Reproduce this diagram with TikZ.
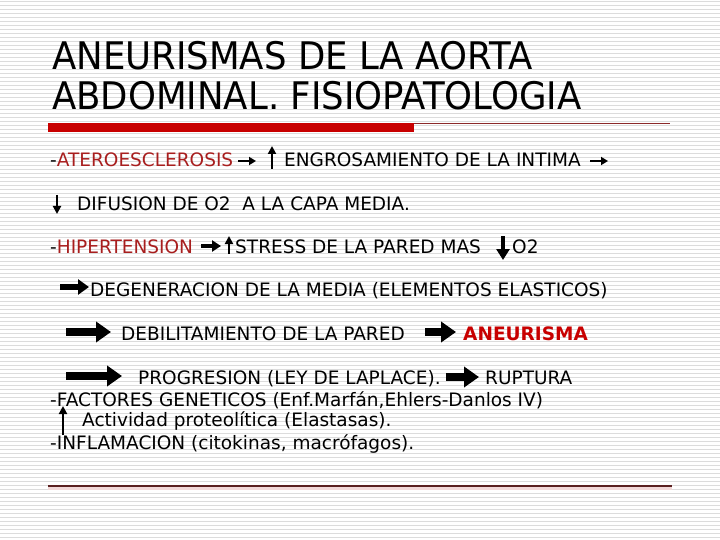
\documentclass[tikz,border=0pt]{standalone}
\usepackage{fontspec}
\setmainfont{DejaVu Sans}
\newfontfamily\titlefont{DejaVu Sans}[FakeStretch=0.935]
\newfontfamily\bodyfont{DejaVu Sans}
\usetikzlibrary{arrows.meta}
\definecolor{stripe}{HTML}{DCDCDC}
\definecolor{txtred}{HTML}{A81E1E}
\definecolor{barred}{HTML}{C80000}
\definecolor{linered}{HTML}{8C2A2A}
\definecolor{botline}{HTML}{5A2020}
\definecolor{botshadow}{HTML}{F2D8D8}
\tikzset{
  title/.style={anchor=base west, inner sep=0pt, font=\titlefont\fontsize{38}{38}\selectfont},
  txt/.style={anchor=base west, inner sep=0pt, font=\bodyfont\fontsize{18.5}{18.5}\selectfont},
  thinarrow/.style={line width=2pt, -{Triangle[length=7pt,width=8pt]}},
  midarrow/.style={line width=3.5pt, -{Triangle[length=9pt,width=11pt]}},
  vthin/.style={line width=2.5pt, -{Triangle[length=8pt,width=8pt]}},
  vmid/.style={line width=4pt, -{Triangle[length=11pt,width=13pt]}},
  bigarrow/.style={line width=6pt, -{Triangle[length=11pt,width=15pt]}},
  hugearrow/.style={line width=8pt, -{Triangle[length=15pt,width=20pt]}},
}
\begin{document}
\begin{tikzpicture}[x=1pt,y=-1pt]
\useasboundingbox (0,0) rectangle (720,540);
\fill[white] (0,0) rectangle (720,540);
\foreach \yy in {1,5,...,537} \draw[stripe, line width=1.2pt] (0,\yy+0.6) -- (720,\yy+0.6);

% title
\node[title] (t1) at (52,70) {ANEURISMAS DE LA AORTA};
\node[title] (t2) at (52,110) {ABDOMINAL. FISIOPATOLOGIA};

% rules
\fill[barred] (48,123) rectangle (414,132);
\draw[linered, line width=1pt] (414,123.5) -- (670,123.5);
\fill[botshadow] (48,487) rectangle (672,490);
\draw[botline, line width=1.3pt] (48,486) -- (672,486);

% line 1
\node[txt] (l1a) at (50,167) {-\textcolor{txtred}{ATEROESCLEROSIS}};
\coordinate (a1s) at (238,161); \coordinate (a1e) at (256,161);
\draw[thinarrow] (a1s) -- (a1e);
\coordinate (u1s) at (272,169); \coordinate (u1e) at (272,146);
\draw[vthin] (u1s) -- (u1e);
\node[txt] (l1b) at (284,167) {ENGROSAMIENTO DE LA INTIMA};
\coordinate (a2s) at (590,161); \coordinate (a2e) at (608,161);
\draw[thinarrow] (a2s) -- (a2e);

% line 2
\coordinate (d1s) at (57,195); \coordinate (d1e) at (57,214);
\draw[vthin] (d1s) -- (d1e);
\node[txt] (l2) at (77,211) {DIFUSION DE O2\ \ A LA CAPA MEDIA.};

% line 3
\node[txt] (l3a) at (50,253) {-\textcolor{txtred}{HIPERTENSION}};
\coordinate (a3s) at (201,246); \coordinate (a3e) at (221,246);
\draw[midarrow] (a3s) -- (a3e);
\coordinate (u2s) at (229,254); \coordinate (u2e) at (229,236);
\draw[vthin] (u2s) -- (u2e);
\node[txt] (l3b) at (235,253) {STRESS DE LA PARED MAS};
\coordinate (d2s) at (503,236); \coordinate (d2e) at (503,260);
\draw[vmid] (d2s) -- (d2e);
\node[txt] (l3c) at (512,253) {O2};

% line 4
\coordinate (a4s) at (60,287); \coordinate (a4e) at (89,287);
\draw[bigarrow] (a4s) -- (a4e);
\node[txt] (l4) at (90,296) {DEGENERACION DE LA MEDIA (ELEMENTOS ELASTICOS)};

% line 5
\coordinate (a5s) at (66,332); \coordinate (a5e) at (111,332);
\draw[hugearrow] (a5s) -- (a5e);
\node[txt] (l5a) at (121,340) {DEBILITAMIENTO DE LA PARED};
\coordinate (a6s) at (425,332); \coordinate (a6e) at (456,332);
\draw[hugearrow] (a6s) -- (a6e);
\node[txt, font=\bodyfont\bfseries\fontsize{18.5}{18.5}\selectfont, text=barred] (l5b) at (463,340) {ANEURISMA};

% line 6
\coordinate (a7s) at (66,376); \coordinate (a7e) at (122,376);
\draw[hugearrow] (a7s) -- (a7e);
\node[txt] (l6a) at (138,384) {PROGRESION (LEY DE LAPLACE).};
\coordinate (a8s) at (446,377); \coordinate (a8e) at (479,377);
\draw[hugearrow] (a8s) -- (a8e);
\node[txt] (l6b) at (485,384) {RUPTURA};

% lines 7-9
\node[txt] (l7) at (50,406) {-FACTORES GENETICOS (Enf.Marfán,Ehlers-Danlos IV)};
\coordinate (u3s) at (63,435); \coordinate (u3e) at (63,406);
\draw[vthin] (u3s) -- (u3e);
\node[txt] (l8) at (82,426) {Actividad proteolítica (Elastasas).};
\node[txt] (l9) at (50,449) {-INFLAMACION (citokinas, macrófagos).};
\end{tikzpicture}
\end{document}
